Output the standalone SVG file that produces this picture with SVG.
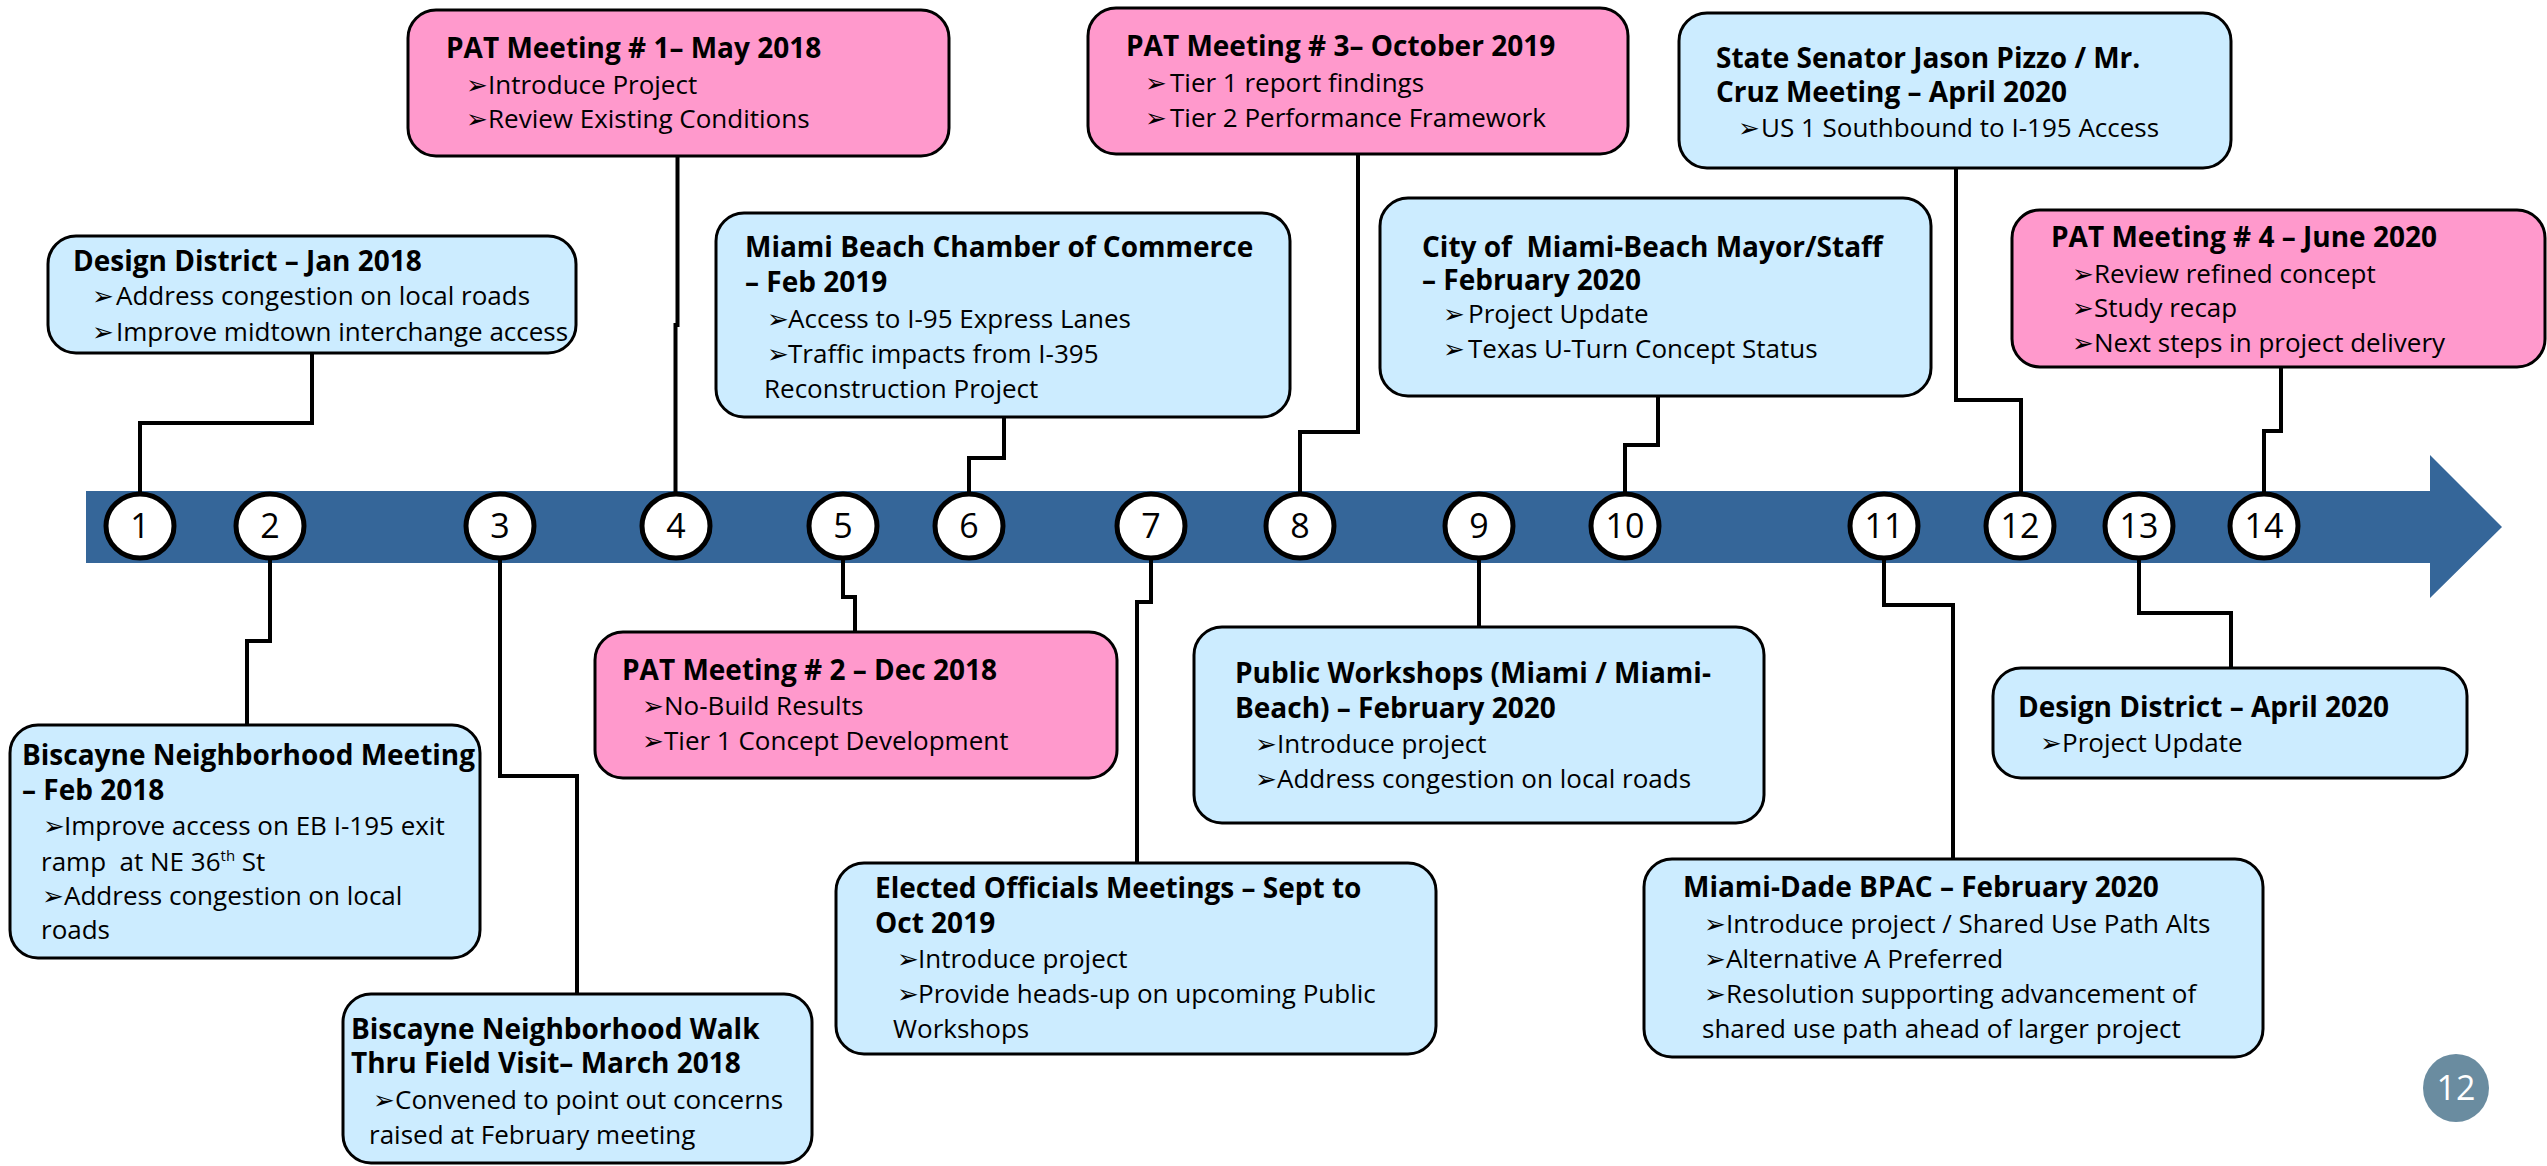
<svg xmlns="http://www.w3.org/2000/svg" width="2547" height="1166" viewBox="0 0 2547 1166">
<style>
.bb{fill:#CCECFF;stroke:#000;stroke-width:3}
.bp{fill:#FF99CC;stroke:#000;stroke-width:3}
text{font-family:"Open Sans","Liberation Sans",sans-serif;fill:#000;white-space:pre}
.h{font-weight:bold;font-size:28px}
.t{font-size:26px}
.u{font-family:"DejaVu Sans",sans-serif;font-size:26px}
.c{fill:#fff;stroke:#000;stroke-width:5}
.n{font-size:34px;text-anchor:middle}
.k{fill:none;stroke:#000;stroke-width:4}
</style>
<rect width="2547" height="1166" fill="#fff"/>
<g id="timeline">
<polygon points="86,491 2430,491 2430,455 2502,527 2430,598 2430,563 86,563" fill="#356699"/>
</g>
<g id="connectors">
<path class="k" d="M312 353V423H140V493"/>
<path class="k" d="M270 560V641H247V725"/>
<path class="k" d="M500 560V776H577V994"/>
<path class="k" d="M677.5 156V325H675.5V493"/>
<path class="k" d="M843 560V597H855V632"/>
<path class="k" d="M969 493V458H1004V417"/>
<path class="k" d="M1151 560V602H1137V863"/>
<path class="k" d="M1358 154V432H1300V493"/>
<path class="k" d="M1479 560V627"/>
<path class="k" d="M1658 396V445H1625V493"/>
<path class="k" d="M1884 560V605H1953V859"/>
<path class="k" d="M1956 168V400H2021V493"/>
<path class="k" d="M2139 560V613H2231V668"/>
<path class="k" d="M2281 367V431H2264V493"/>
</g>
<g id="markers">
<g id="m1"><ellipse class="c" cx="140" cy="526" rx="34" ry="32"/><text class="n" x="140" y="538">1</text></g>
<g id="m2"><ellipse class="c" cx="270" cy="526" rx="34" ry="32"/><text class="n" x="270" y="538">2</text></g>
<g id="m3"><ellipse class="c" cx="500" cy="526" rx="34" ry="32"/><text class="n" x="500" y="538">3</text></g>
<g id="m4"><ellipse class="c" cx="676" cy="526" rx="34" ry="32"/><text class="n" x="676" y="538">4</text></g>
<g id="m5"><ellipse class="c" cx="843" cy="526" rx="34" ry="32"/><text class="n" x="843" y="538">5</text></g>
<g id="m6"><ellipse class="c" cx="969" cy="526" rx="34" ry="32"/><text class="n" x="969" y="538">6</text></g>
<g id="m7"><ellipse class="c" cx="1151" cy="526" rx="34" ry="32"/><text class="n" x="1151" y="538">7</text></g>
<g id="m8"><ellipse class="c" cx="1300" cy="526" rx="34" ry="32"/><text class="n" x="1300" y="538">8</text></g>
<g id="m9"><ellipse class="c" cx="1479" cy="526" rx="34" ry="32"/><text class="n" x="1479" y="538">9</text></g>
<g id="m10"><ellipse class="c" cx="1625" cy="526" rx="34" ry="32"/><text class="n" x="1625" y="538">10</text></g>
<g id="m11"><ellipse class="c" cx="1884" cy="526" rx="34" ry="32"/><text class="n" x="1884" y="538">11</text></g>
<g id="m12"><ellipse class="c" cx="2020" cy="526" rx="34" ry="32"/><text class="n" x="2020" y="538">12</text></g>
<g id="m13"><ellipse class="c" cx="2139" cy="526" rx="34" ry="32"/><text class="n" x="2139" y="538">13</text></g>
<g id="m14"><ellipse class="c" cx="2264" cy="526" rx="34" ry="32"/><text class="n" x="2264" y="538">14</text></g>
</g>
<g id="pat1">
<rect class="bp" x="408" y="10" width="541" height="146" rx="28"/>
<text class="h" x="446" y="58">PAT Meeting # 1– May 2018</text>
<text class="u" x="466" y="94">➢</text><text class="t" x="488" y="94">Introduce Project</text>
<text class="u" x="466" y="128">➢</text><text class="t" x="488" y="128">Review Existing Conditions</text>
</g>
<g id="dd-jan">
<rect class="bb" x="48" y="236" width="528" height="117" rx="28"/>
<text class="h" x="73" y="271">Design District – Jan 2018</text>
<text class="u" x="92" y="305">➢</text><text class="t" x="116" y="305">Address congestion on local roads</text>
<text class="u" x="92" y="341">➢</text><text class="t" x="116" y="341">Improve midtown interchange access</text>
</g>
<g id="mbcc">
<rect class="bb" x="716" y="213" width="574" height="204" rx="28"/>
<text class="h" x="745" y="257">Miami Beach Chamber of Commerce</text>
<text class="h" x="745" y="292">– Feb 2019</text>
<text class="u" x="767" y="328">➢</text><text class="t" x="788" y="328">Access to I-95 Express Lanes</text>
<text class="u" x="767" y="363">➢</text><text class="t" x="788" y="363">Traffic impacts from I-395</text>
<text class="t" x="764" y="398">Reconstruction Project</text>
</g>
<g id="pat3">
<rect class="bp" x="1088" y="8" width="540" height="146" rx="28"/>
<text class="h" x="1126" y="56">PAT Meeting # 3– October 2019</text>
<text class="u" x="1145" y="92">➢</text><text class="t" x="1170" y="92">Tier 1 report findings</text>
<text class="u" x="1145" y="127">➢</text><text class="t" x="1170" y="127">Tier 2 Performance Framework</text>
</g>
<g id="city-mb">
<rect class="bb" x="1380" y="198" width="551" height="198" rx="28"/>
<text class="h" x="1422" y="257">City of  Miami-Beach Mayor/Staff</text>
<text class="h" x="1422" y="290">– February 2020</text>
<text class="u" x="1443" y="323">➢</text><text class="t" x="1468" y="323">Project Update</text>
<text class="u" x="1443" y="358">➢</text><text class="t" x="1468" y="358">Texas U-Turn Concept Status</text>
</g>
<g id="senator">
<rect class="bb" x="1679" y="13" width="552" height="155" rx="28"/>
<text class="h" x="1716" y="68">State Senator Jason Pizzo / Mr.</text>
<text class="h" x="1716" y="102">Cruz Meeting – April 2020</text>
<text class="u" x="1738" y="137">➢</text><text class="t" x="1761" y="137">US 1 Southbound to I-195 Access</text>
</g>
<g id="pat4">
<rect class="bp" x="2012" y="210" width="533" height="157" rx="28"/>
<text class="h" x="2051" y="247">PAT Meeting # 4 – June 2020</text>
<text class="u" x="2072" y="283">➢</text><text class="t" x="2094" y="283">Review refined concept</text>
<text class="u" x="2072" y="317">➢</text><text class="t" x="2094" y="317">Study recap</text>
<text class="u" x="2072" y="352">➢</text><text class="t" x="2094" y="352">Next steps in project delivery</text>
</g>
<g id="biscayne-meeting">
<rect class="bb" x="10" y="725" width="470" height="233" rx="28"/>
<text class="h" x="22" y="765">Biscayne Neighborhood Meeting</text>
<text class="h" x="22" y="800">– Feb 2018</text>
<text class="u" x="43" y="835">➢</text><text class="t" x="64" y="835">Improve access on EB I-195 exit</text>
<text class="t" x="41" y="871">ramp  at NE 36<tspan font-size="15" dy="-10">th</tspan><tspan dy="10"> St</tspan></text>
<text class="u" x="42" y="905">➢</text><text class="t" x="64" y="905">Address congestion on local</text>
<text class="t" x="41" y="939">roads</text>
</g>
<g id="pat2">
<rect class="bp" x="595" y="632" width="522" height="146" rx="28"/>
<text class="h" x="622" y="680">PAT Meeting # 2 – Dec 2018</text>
<text class="u" x="642" y="715">➢</text><text class="t" x="664" y="715">No-Build Results</text>
<text class="u" x="642" y="750">➢</text><text class="t" x="664" y="750">Tier 1 Concept Development</text>
</g>
<g id="workshops">
<rect class="bb" x="1194" y="627" width="570" height="196" rx="28"/>
<text class="h" x="1235" y="683">Public Workshops (Miami / Miami-</text>
<text class="h" x="1235" y="718">Beach) – February 2020</text>
<text class="u" x="1255" y="753">➢</text><text class="t" x="1277" y="753">Introduce project</text>
<text class="u" x="1255" y="788">➢</text><text class="t" x="1277" y="788">Address congestion on local roads</text>
</g>
<g id="dd-apr">
<rect class="bb" x="1993" y="668" width="474" height="110" rx="28"/>
<text class="h" x="2018" y="717">Design District – April 2020</text>
<text class="u" x="2040" y="752">➢</text><text class="t" x="2062" y="752">Project Update</text>
</g>
<g id="biscayne-walk">
<rect class="bb" x="343" y="994" width="469" height="169" rx="28"/>
<text class="h" x="351" y="1039">Biscayne Neighborhood Walk</text>
<text class="h" x="351" y="1073">Thru Field Visit– March 2018</text>
<text class="u" x="373" y="1109">➢</text><text class="t" x="395" y="1109">Convened to point out concerns</text>
<text class="t" x="369" y="1144">raised at February meeting</text>
</g>
<g id="elected">
<rect class="bb" x="836" y="863" width="600" height="191" rx="28"/>
<text class="h" x="875" y="898">Elected Officials Meetings – Sept to</text>
<text class="h" x="875" y="933">Oct 2019</text>
<text class="u" x="897" y="968">➢</text><text class="t" x="918" y="968">Introduce project</text>
<text class="u" x="897" y="1003">➢</text><text class="t" x="918" y="1003">Provide heads-up on upcoming Public</text>
<text class="t" x="893" y="1038">Workshops</text>
</g>
<g id="bpac">
<rect class="bb" x="1644" y="859" width="619" height="198" rx="28"/>
<text class="h" x="1683" y="897">Miami-Dade BPAC – February 2020</text>
<text class="u" x="1704" y="933">➢</text><text class="t" x="1726" y="933">Introduce project / Shared Use Path Alts</text>
<text class="u" x="1704" y="968">➢</text><text class="t" x="1726" y="968">Alternative A Preferred</text>
<text class="u" x="1704" y="1003">➢</text><text class="t" x="1726" y="1003">Resolution supporting advancement of</text>
<text class="t" x="1702" y="1038">shared use path ahead of larger project</text>
</g>
<g id="page-number">
<ellipse cx="2456" cy="1088" rx="33" ry="34" fill="#6A8CA0"/>
<text x="2456" y="1100" font-size="34" text-anchor="middle" style="fill:#fff">12</text>
</g>
</svg>
